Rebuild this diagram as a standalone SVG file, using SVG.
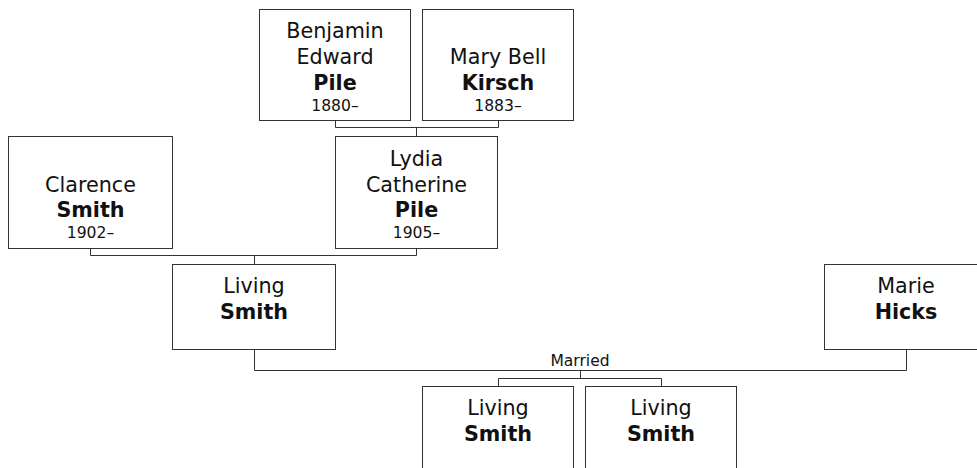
<svg xmlns="http://www.w3.org/2000/svg" width="977" height="468" viewBox="0 0 977 468">
<style>
rect.box{fill:#fff;stroke:#333;stroke-width:1}
.conn path{fill:none;stroke:#333;stroke-width:1}
text{font-family:"DejaVu Sans",Verdana,sans-serif;fill:#111;text-anchor:middle}
.n{font-size:20.7px}
.b{font-size:20.7px;font-weight:bold}
.d{font-size:15.6px}
.m{font-size:15.5px}
</style>
<rect width="977" height="468" fill="#fff"/>
<g class="conn" id="connectors">
<path d="M335.5,120.5V127.5H498.5V120.5M416.5,127.5V136.5"/>
<path d="M90.5,248.5V255.5H416.5V248.5M254.5,255.5V264.5"/>
<path d="M254.5,349.5V370.5H906.5V349.5"/>
<path d="M580.5,370.5V378.5M498.5,386.5V378.5H661.5V386.5"/>
<text class="m" x="580" y="366">Married</text>
</g>
<g id="benjamin">
<rect class="box" x="259.5" y="9.5" width="151" height="111"/>
<text class="n" x="335" y="37.5">Benjamin</text>
<text class="n" x="335" y="63.5">Edward</text>
<text class="b" x="335" y="89.5">Pile</text>
<text class="d" x="335" y="110.5">1880–</text>
</g>
<g id="mary">
<rect class="box" x="422.5" y="9.5" width="151" height="111"/>
<text class="n" x="498" y="63.5">Mary Bell</text>
<text class="b" x="498" y="89.5">Kirsch</text>
<text class="d" x="498" y="110.5">1883–</text>
</g>
<g id="clarence">
<rect class="box" x="8.5" y="136.5" width="164" height="112"/>
<text class="n" x="90.5" y="191.5">Clarence</text>
<text class="b" x="90.5" y="217">Smith</text>
<text class="d" x="90.5" y="237.5">1902–</text>
</g>
<g id="lydia">
<rect class="box" x="335.5" y="136.5" width="162" height="112"/>
<text class="n" x="416.5" y="165.5">Lydia</text>
<text class="n" x="416.5" y="191.5">Catherine</text>
<text class="b" x="416.5" y="217">Pile</text>
<text class="d" x="416.5" y="237.5">1905–</text>
</g>
<g id="living-smith">
<rect class="box" x="172.5" y="264.5" width="163" height="85"/>
<text class="n" x="254" y="293">Living</text>
<text class="b" x="254" y="318.5">Smith</text>
</g>
<g id="marie">
<rect class="box" x="824.5" y="264.5" width="163" height="85"/>
<text class="n" x="906" y="292.5">Marie</text>
<text class="b" x="906" y="318.5">Hicks</text>
</g>
<g id="child1">
<rect class="box" x="422.5" y="386.5" width="151" height="85"/>
<text class="n" x="498" y="414.5">Living</text>
<text class="b" x="498" y="440.5">Smith</text>
</g>
<g id="child2">
<rect class="box" x="585.5" y="386.5" width="151" height="85"/>
<text class="n" x="661" y="414.5">Living</text>
<text class="b" x="661" y="440.5">Smith</text>
</g>
</svg>
